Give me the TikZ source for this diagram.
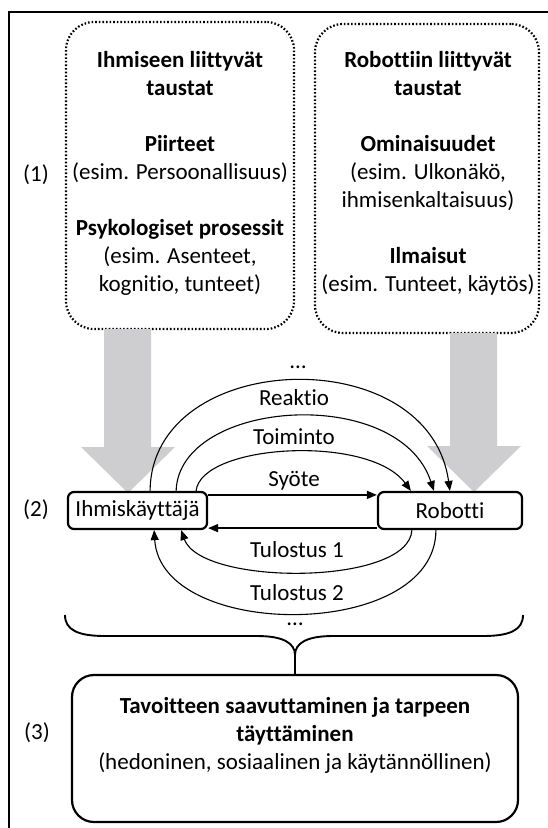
\documentclass[tikz,border=0pt]{standalone}
\usepackage{fontspec}
\setmainfont{Carlito}[Ligatures=CommonOff]
\usetikzlibrary{arrows.meta}
\definecolor{shade}{RGB}{206,205,208}
\tikzset{
  txt/.style={font=\fontsize{23}{28}\selectfont, inner sep=0pt, align=center},
  dotbox/.style={draw, line width=2.2pt, dash pattern=on 1.6pt off 2pt,
    rounded corners=28pt, inner sep=0pt},
  actor/.style={draw, fill=white, line width=2.2pt, rounded corners=6pt,
    minimum height=37pt, inner sep=0pt, font=\fontsize{23}{28}\selectfont},
  goalbox/.style={draw, line width=2.2pt, rounded corners=22pt, inner sep=0pt,
    minimum width=446pt, minimum height=147pt},
  flow/.style={line width=1.1pt, -{Triangle[length=10pt,width=8pt]}},
  straight/.style={line width=1.4pt, -{Triangle[length=10pt,width=8pt]}},
  brace/.style={line width=1.9pt},
  bigarrow/.style={fill=shade, draw=none},
}
\begin{document}
\begin{tikzpicture}[x=1pt, y=-1pt]
\useasboundingbox (0,0) rectangle (548,828);

% frame
\draw[line width=2.6pt] (9,832) -- (9,12) -- (552,12);

% background boxes (1)
\node[dotbox, minimum width=228pt, minimum height=307pt] (hback) at (180,175.5) {};
\node[dotbox, minimum width=224pt, minimum height=309pt] (rback) at (427,178.5) {};
\node[txt] (htext) at (180,173) {\textbf{Ihmiseen liittyvät}\\\textbf{taustat}\\[28pt]
  \textbf{Piirteet}\\(esim. Persoonallisuus)\\[28pt]
  \textbf{Psykologiset prosessit}\\(esim. Asenteet,\\kognitio, tunteet)};
\node[txt] (rtext) at (428,173) {\textbf{Robottiin liittyvät}\\\textbf{taustat}\\[28pt]
  \textbf{Ominaisuudet}\\(esim. Ulkonäkö,\\ihmisenkaltaisuus)\\[28pt]
  \textbf{Ilmaisut}\\(esim. Tunteet, käytös)};

% wide grey arrows from the backgrounds down to the actors
\fill[bigarrow] (104,329) -- (151,329) -- (151,447) -- (175,447) -- (128,493)
  -- (81,447) -- (104,447) -- cycle;
\fill[bigarrow] (450,333) -- (497,333) -- (497,446) -- (521,446) -- (474,492)
  -- (427,446) -- (450,446) -- cycle;

% level labels
\node[txt] (n1) at (36,175) {(1)};
\node[txt] (n2) at (36,510) {(2)};
\node[txt] (n3) at (37,733) {(3)};

% actors (2)
\node[actor, minimum width=139pt] (hu) at (137.5,510.5) {Ihmiskäyttäjä};
\node[actor, minimum width=144pt] (ro) at (450,510.5) {Robotti};

% straight exchanges
\draw[straight] ([yshift=-4pt]hu.north east) -- ([yshift=-4pt]ro.north west);
\draw[straight] ([yshift=2pt]ro.south west) -- ([yshift=2pt]hu.south east);

% arcs from the human to the robot
\draw[flow] ([xshift=-12pt]hu.north east) .. controls +(5,-47) and +(-42,-57) .. ([xshift=34pt]ro.north west);
\draw[flow] ([xshift=-32pt]hu.north east) .. controls +(3,-92) and +(-35,-107) .. ([xshift=57pt]ro.north west);
\draw[flow] ([xshift=-58pt]hu.north east) .. controls +(1,-142) and +(-21,-152) .. ([xshift=73pt]ro.north west);

% arcs from the robot back to the human
\draw[flow] ([xshift=35pt]ro.south west) .. controls +(-3,56) and +(20,56) .. ([xshift=-27pt]hu.south east);
\draw[flow] ([xshift=59pt]ro.south west) .. controls +(0,111) and +(7,111) .. ([xshift=-54pt]hu.south east);

% arc labels
\node[txt] (ldots) at (298,367) {…};
\node[txt] (lreak) at (294,398) {Reaktio};
\node[txt] (ltoim) at (294,437) {Toiminto};
\node[txt] (lsyot) at (294,481) {Syöte};
\node[txt] (ltul1) at (297,550) {Tulostus 1};
\node[txt] (ltul2) at (297,593) {Tulostus 2};
\node[txt] (bdots) at (295,624) {…};

% outcome (3)
\node[goalbox] (goal) at (295,748.5) {};
\node[txt] (gtext) at (295,735) {\textbf{Tavoitteen saavuttaminen ja tarpeen}\\
  \textbf{täyttäminen}\\(hedoninen, sosiaalinen ja käytännöllinen)};

% brace gathering the interaction into the outcome
\coordinate (btip) at (295,655);
\draw[brace] (65,615) .. controls (65,630) and (78,636) .. (105,636) -- (257,636)
  .. controls (283,636) and (295,643) .. (btip) -- (goal.north);
\draw[brace] (523,615) .. controls (523,630) and (510,636) .. (483,636) -- (333,636)
  .. controls (307,636) and (295,643) .. (btip);
\end{tikzpicture}
\end{document}
